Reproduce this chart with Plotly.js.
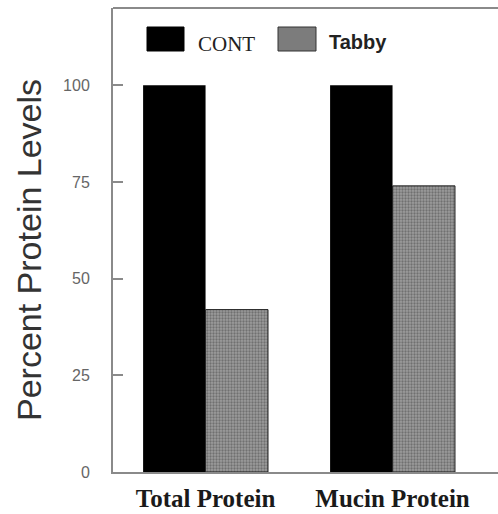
<!DOCTYPE html>
<html>
<head>
<meta charset="utf-8">
<script src="https://cdn.plot.ly/plotly-3.0.1.min.js"></script>
<style>html,body{margin:0;padding:0;background:#fff;}#chart{width:498px;height:514px;}</style>
</head>
<body>
<div id="chart"></div>
<script>
const categories = ["Total Protein", "Mucin Protein"];
const seriesNames = ["CONT", "Tabby"];
const contValues = [100, 100];
const tabbyValues = [42, 74];
const yTickVals = [0, 25, 50, 75, 100];
const yTickText = ["0", "25", "50", "75", "100"];

const W = 498, H = 514, ML = 113, MR = 0, MT = 8, MB = 42;
const PW = W - ML - MR, PH = H - MT - MB;
const px = x => (x - ML) / PW;
const py = y => (H - MB - y) / PH;

const traces = [
  {
    type: "bar", name: seriesNames[0], x: categories, y: contValues,
    marker: {color: "#000000", line: {color: "#000", width: 0}},
    showlegend: false
  },
  {
    type: "bar", name: seriesNames[1], x: categories, y: tabbyValues,
    marker: {
      color: "#888",
      pattern: {shape: ".", bgcolor: "#9c9c9c", fgcolor: "#444", size: 3, solidity: 0.45, fillmode: "overlay"},
      line: {color: "#222", width: 1}
    },
    showlegend: false
  }
];

const layout = {
  width: W, height: H,
  margin: {l: ML, r: MR, t: MT, b: MB, pad: 0},
  paper_bgcolor: "#fff", plot_bgcolor: "#fff",
  barmode: "group", bargap: 0.332, bargroupgap: 0,
  showlegend: false,
  xaxis: {
    type: "category", range: [-0.495, 1.564],
    showline: true, linecolor: "#8a8a8a", linewidth: 2,
    ticks: "", showgrid: false, zeroline: false,
    tickfont: {family: "Liberation Serif, Times New Roman, serif", size: 25, color: "#1a1a1a", weight: "bold"},
    ticklabelstandoff: 3
  },
  yaxis: {
    range: [0, 120],
    showline: true, linecolor: "#8a8a8a", linewidth: 2,
    ticks: "inside", ticklen: 10, tickwidth: 2, tickcolor: "#8a8a8a",
    tickvals: yTickVals, ticktext: yTickText,
    showgrid: false, zeroline: false,
    tickfont: {family: "Liberation Sans, Arial, sans-serif", size: 16, color: "#666"},
    ticklabelstandoff: 18
  },
  shapes: [
    {type: "line", xref: "paper", yref: "paper", x0: 0, x1: 1, y0: 1, y1: 1, line: {color: "#8a8a8a", width: 2}},
    {type: "rect", xref: "paper", yref: "paper", x0: px(147), x1: px(184), y0: py(51), y1: py(27), fillcolor: "#000", line: {color: "#000", width: 1}},
    {type: "rect", xref: "paper", yref: "paper", x0: px(278), x1: px(316), y0: py(51), y1: py(27), fillcolor: "#7c7c7c", line: {color: "#333", width: 1}}
  ],
  annotations: [
    {text: "Percent Protein Levels", xref: "paper", yref: "paper", x: 0, y: 0.5, xshift: -84, yshift: -10,
     textangle: -90, showarrow: false, xanchor: "center", yanchor: "middle",
     font: {family: "Liberation Sans, Arial, sans-serif", size: 34, color: "#333"}},
    {text: seriesNames[0], xref: "paper", yref: "paper", x: px(196), y: py(44), showarrow: false, xanchor: "left", yanchor: "middle",
     font: {family: "Liberation Serif, Times New Roman, serif", size: 21, color: "#222"}},
    {text: "<b>" + seriesNames[1] + "</b>", xref: "paper", yref: "paper", x: px(327), y: py(42), showarrow: false, xanchor: "left", yanchor: "middle",
     font: {family: "Liberation Sans, Arial, sans-serif", size: 20, color: "#222"}}
  ]
};

Plotly.newPlot("chart", traces, layout, {displayModeBar: false, staticPlot: true});
</script>
</body>
</html>
